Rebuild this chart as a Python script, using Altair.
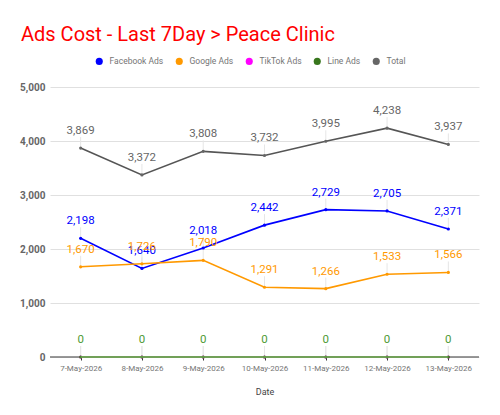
import altair as alt
import pandas as pd

dates = ["7-May-2026", "8-May-2026", "9-May-2026", "10-May-2026",
         "11-May-2026", "12-May-2026", "13-May-2026"]
facebook = [2198, 1640, 2018, 2442, 2729, 2705, 2371]
google = [1670, 1726, 1790, 1291, 1266, 1533, 1566]
tiktok = [0, 0, 0, 0, 0, 0, 0]
line_ads = [0, 0, 0, 0, 0, 0, 0]
total = [3869, 3372, 3808, 3732, 3995, 4238, 3937]

series_names = ["Facebook Ads", "Google Ads", "TikTok Ads", "Line Ads", "Total"]
series_values = [facebook, google, tiktok, line_ads, total]
series_colors = ["#0000ff", "#ff9900", "#ff00ff", "#38761d", "#666666"]
line_colors = ["#0000ff", "#ff9900", "#ff00ff", "#6aa84f", "#555555"]
label_colors = ["#0000ff", "#ff9900", "#ff00ff", "#4e9a35", "#666666"]

rows = []
for i, (name, vals) in enumerate(zip(series_names, series_values)):
    for j, (d, v) in enumerate(zip(dates, vals)):
        rows.append({"Date": d, "Series": name, "Value": v, "order": i})
df = pd.DataFrame(rows)

FONT = "Roboto"

x = alt.X("Date:N", sort=dates, scale=alt.Scale(type="point", padding=0.5),
          axis=alt.Axis(title="Date", labelAngle=0, labelFontSize=8, labelColor="#757575",
                        labelFont=FONT, titleFont=FONT, titleFontSize=9, titleColor="#444444",
                        titleFontWeight="normal", titlePadding=15,
                        domain=False, tickColor="#333333",
                        tickSize=3, labelPadding=4, grid=False))
y = alt.Y("Value:Q", scale=alt.Scale(domain=[0, 5000], nice=False),
          axis=alt.Axis(title=None, values=[0, 1000, 2000, 3000, 4000, 5000], format=",.0f",
                        labelFontSize=10, labelFontWeight="bold", labelColor="#666666",
                        labelFont=FONT, labelPadding=5, domain=False, ticks=False,
                        gridColor="#e0e0e0", gridWidth=1))
legend_color = alt.Color("Series:N", scale=alt.Scale(domain=series_names, range=series_colors),
                         legend=alt.Legend(title=None, orient="none", direction="horizontal",
                                           legendX=45, legendY=-30, symbolType="circle",
                                           symbolSize=50, symbolStrokeWidth=0,
                                           labelFontSize=8.5, labelColor="#757575",
                                           labelFont=FONT, columnPadding=11, labelOffset=6))

base = alt.Chart(df)

baseline = alt.Chart(pd.DataFrame({"zero": [0]})).mark_rule(
    color="#777777", strokeWidth=1.5).encode(y=alt.Y("zero:Q", scale=alt.Scale(domain=[0, 5000])))

leaders = base.mark_rule(color="#e6e6e6", strokeWidth=1, y2Offset=-11).encode(
    x=x, y=y, y2=alt.Y2("Value:Q"))

line_color = alt.Color("Series:N", scale=alt.Scale(domain=series_names, range=line_colors),
                       legend=None)
lines = base.mark_line(strokeWidth=1.6).encode(
    x=x, y=y, order=alt.Order("order:Q"), color=line_color)

line_ads_top = base.transform_filter(alt.datum.Series == "Line Ads").mark_line(
    strokeWidth=1.6).encode(x=x, y=y, color=line_color)

points = base.mark_point(size=10, filled=True, opacity=1).encode(
    x=x, y=y, color=legend_color)

labels = base.transform_filter(alt.datum.Series != "TikTok Ads").mark_text(
    dy=-17, fontSize=11.5, font=FONT, baseline="middle").encode(
    x=x, y=y, text=alt.Text("Value:Q", format=","),
    color=alt.Color("Series:N", scale=alt.Scale(domain=series_names, range=label_colors),
                    legend=None))

chart = alt.layer(baseline, leaders, lines, points, line_ads_top, labels).resolve_scale(
    color="independent").properties(
    width=429, height=270,
    title=alt.TitleParams("Ads Cost - Last 7Day > Peace Clinic", anchor="start",
                          font=FONT, fontSize=20, fontWeight="normal", color="#ff0000",
                          frame="group", dx=-29, offset=12),
    autosize=alt.AutoSizeParams(type="none"),
    padding={"left": 42, "top": 79, "right": 10, "bottom": 50},
).configure_view(stroke=None)

chart.save("out.html", embed_options={"renderer": "svg", "actions": False})
